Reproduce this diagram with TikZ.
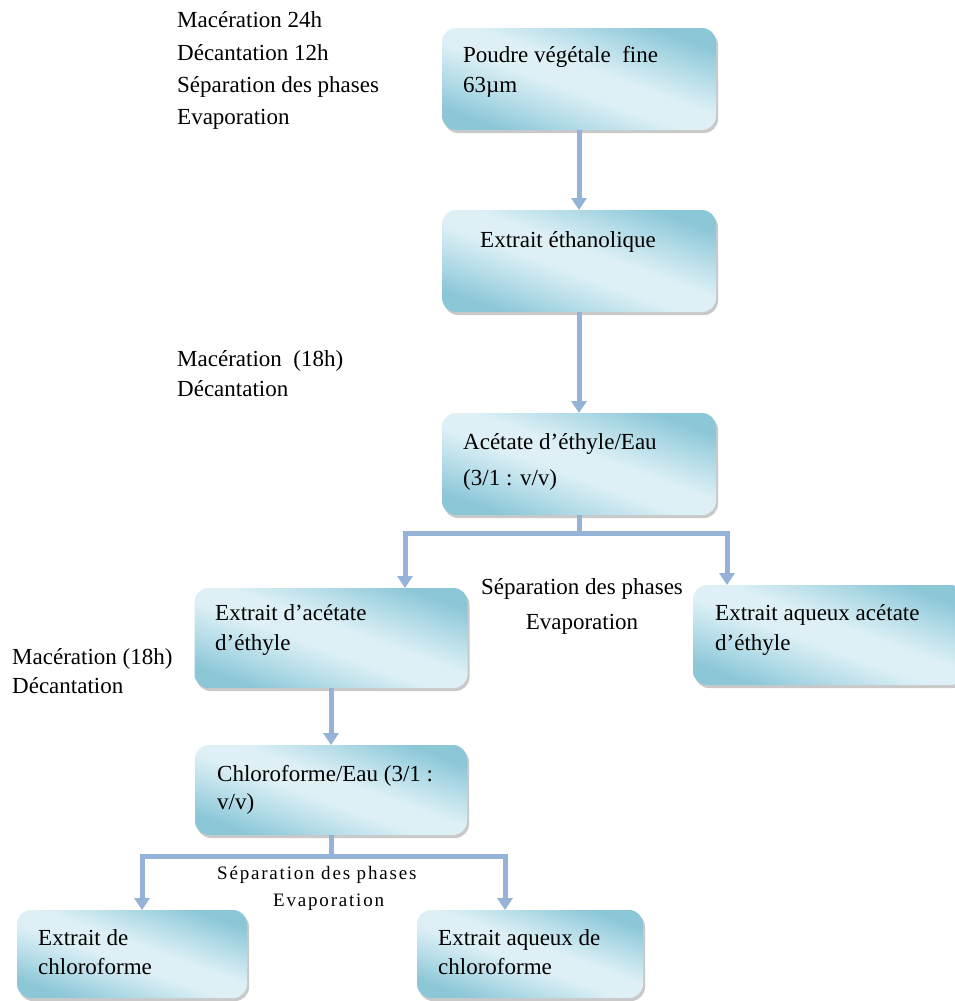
\documentclass[tikz,border=0pt]{standalone}
\usepackage{fontspec}
\setmainfont{Liberation Serif}
\usetikzlibrary{arrows.meta,shadows}
\definecolor{boxdark}{RGB}{140,199,216}
\definecolor{boxmid}{RGB}{184,222,233}
\definecolor{boxlight}{RGB}{222,240,246}
\definecolor{arrowc}{RGB}{149,179,215}
\pgfdeclareverticalshading{boxsh}{100bp}{color(0bp)=(boxdark); color(25bp)=(boxdark);
  color(36bp)=(boxmid); color(46bp)=(boxlight); color(54bp)=(boxlight);
  color(64bp)=(boxmid); color(75bp)=(boxdark); color(100bp)=(boxdark)}
\tikzset{
  box/.style={shading=boxsh, shading angle=-20, rounded corners=14pt, inner sep=0pt, outer sep=0pt,
    drop shadow={shadow xshift=2pt, shadow yshift=-3pt, opacity=0.3, fill=black!70}},
  txt/.style={anchor=north west, inner sep=0pt, align=left, text=black},
  arr/.style={draw=arrowc, line width=5pt, line join=miter,
    -{Triangle[width=15pt,length=12pt]}}
}
\begin{document}
\begin{tikzpicture}[x=1pt,y=-1pt]
\useasboundingbox (0,0) rectangle (954,1001);
% boxes
\node[box, minimum width=274pt, minimum height=102pt] (b1) at (579,79) {};
\node[box, minimum width=274pt, minimum height=102pt] (b2) at (579,261) {};
\node[box, minimum width=274pt, minimum height=102pt] (b3) at (579,464) {};
\node[box, minimum width=273pt, minimum height=100pt] (b4) at (331,638) {};
\node[box, minimum width=272pt, minimum height=100pt] (b5) at (829,635) {};
\node[box, minimum width=272pt, minimum height=90pt] (b6) at (331,790) {};
\node[box, minimum width=230pt, minimum height=88pt] (b7) at (132,954) {};
\node[box, minimum width=226pt, minimum height=88pt] (b8) at (530,954) {};
% box texts
\node[txt, font=\fontsize{23}{30}\selectfont] (t1) at (463,41) {\strut Poudre végétale\ \ fine\\63µm};
\node[txt, font=\fontsize{23}{30}\selectfont] (t2) at (480,226) {\strut Extrait éthanolique};
\node[txt, font=\fontsize{23}{36}\selectfont] (t3) at (463,424) {\strut Acétate d’éthyle/Eau\\(3/1 : v/v)};
\node[txt, font=\fontsize{23}{30}\selectfont] (t4) at (215,599) {\strut Extrait d’acétate\\d’éthyle};
\node[txt, font=\fontsize{23}{30}\selectfont] (t5) at (715,599) {\strut Extrait aqueux acétate\\d’éthyle};
\node[txt, font=\fontsize{23}{28}\selectfont] (t6) at (217,762) {\strut Chloroforme/Eau (3/1 :\\v/v)};
\node[txt, font=\fontsize{23}{29}\selectfont] (t7) at (38,925) {\strut Extrait de\\chloroforme};
\node[txt, font=\fontsize{23}{29}\selectfont] (t8) at (438,925) {\strut Extrait aqueux de\\chloroforme};
% side labels
\node[txt, font=\fontsize{23}{32.3}\selectfont] (l1) at (177,5) {\strut Macération 24h\\Décantation 12h\\Séparation des phases\\Evaporation};
\node[txt, font=\fontsize{23}{30}\selectfont] (l2) at (177,345) {\strut Macération\ \ (18h)\\Décantation};
\node[anchor=north, inner sep=0pt, align=center, font=\fontsize{23}{35}\selectfont] (l3) at (582,570) {\strut Séparation des phases\\Evaporation};
\node[txt, font=\fontsize{23}{29}\selectfont] (l4) at (12,644) {\strut Macération (18h)\\Décantation};
\node[txt, font=\fontsize{19}{27}\selectfont\addfontfeature{LetterSpace=9.5}] (l5) at (217,860) {\strut Séparation des phases\\\hspace*{56pt}Evaporation};
% connectors
\draw[arr] (b1) -- (b2);
\draw[arr] (b2) -- (b3);
\coordinate (j1l) at (405,533);
\coordinate (j1r) at (727,533);
\draw[arr] (b3.south) |- (j1l) -- (j1l |- b4.north);
\draw[arr] (b3.south) |- (j1r) -- (j1r |- b5.north);
\draw[arr] (b4) -- (b6);
\coordinate (j2l) at (142,856);
\coordinate (j2r) at (505,856);
\draw[arr] (b6.south) |- (j2l) -- (j2l |- b7.north);
\draw[arr] (b6.south) |- (j2r) -- (j2r |- b8.north);
\end{tikzpicture}
\end{document}
